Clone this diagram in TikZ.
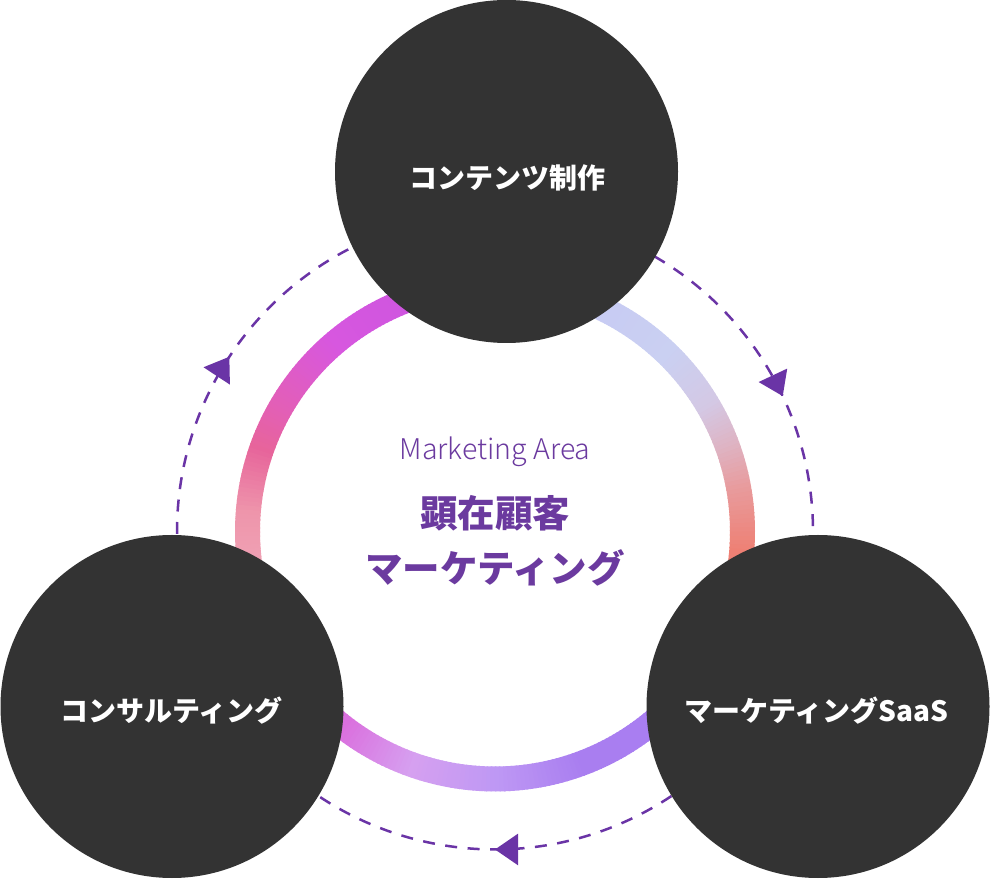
\documentclass[tikz,border=0pt]{standalone}
\usepackage{fontspec}
\newfontfamily\jp{Noto Sans CJK JP}
\IfFontExistsTF{Noto Sans CJK JP Light}{\newfontfamily\jplight{Noto Sans CJK JP Light}}{\newfontfamily\jplight{Noto Sans CJK JP}}
\usetikzlibrary{arrows.meta,decorations.markings,calc}
\definecolor{dark}{HTML}{333333}
\definecolor{purp}{HTML}{6B3A9F}
\definecolor{dashc}{HTML}{6A34A6}
% ring colour stops
\definecolor{La}{HTML}{C854E0}
\definecolor{Lb}{HTML}{D757DF}
\definecolor{Lc}{HTML}{E35FB6}
\definecolor{Ld}{HTML}{E7649B}
\definecolor{Le}{HTML}{EE95AB}
\definecolor{Lf}{HTML}{F2B4C2}
\definecolor{Ba}{HTML}{DA70DE}
\definecolor{Bb}{HTML}{D6A0F0}
\definecolor{Bc}{HTML}{BE98F4}
\definecolor{Bd}{HTML}{A97EF0}
\definecolor{Be}{HTML}{AA7DF2}
\definecolor{Ra}{HTML}{EE8074}
\definecolor{Rb}{HTML}{E89C9E}
\definecolor{Rc}{HTML}{DEB4C4}
\definecolor{Rd}{HTML}{D4C8E4}
\definecolor{Re}{HTML}{CAD0F2}
\definecolor{Rf}{HTML}{C4C4F4}
\newcommand\gradarc[4]{%
  \pgfmathtruncatemacro\gaLast{#2-1}%
  \foreach \ang in {#1,...,\gaLast}{%
    \pgfmathsetmacro\gaPct{100*(\ang-(#1))/((#2)-(#1))}%
    \draw[ringseg,color=#4!\gaPct!#3] (cen) ++(\ang:247.5pt) arc[start angle=\ang,end angle=\ang+1.3,radius=247.5pt];
  }%
}
\tikzset{
  ringseg/.style={line width=25pt,line cap=butt},
  bubble/.style={circle,fill=dark,minimum size=343pt,inner sep=0pt},
  blabel/.style={anchor=base,text=white,font=\jp\bfseries\fontsize{28}{32}\selectfont,inner sep=0pt},
  sublabel/.style={anchor=base,text=purp,font=\jplight\fontsize{28.5}{32}\selectfont,inner sep=0pt},
  mainlabel/.style={anchor=base,text=purp,font=\jp\bfseries\fontsize{37.5}{42}\selectfont,inner sep=0pt},
  flow/.style={draw=dashc,line width=2.5pt,dash pattern=on 12pt off 10.5pt,
    postaction={decorate},
    decoration={markings,mark=at position #1 with {\arrow[dashc]{Triangle[length=23pt,width=31pt]}}}},
  flow/.default=0.5
}
\begin{document}
\begin{tikzpicture}[x=1pt,y=1pt]
\useasboundingbox (0,0) rectangle (990,878);
\coordinate (cen) at (495,346.5);
% gradient ring
\gradarc{95}{130}{La}{Lb}
\gradarc{130}{150}{Lb}{Lc}
\gradarc{150}{160}{Lc}{Ld}
\gradarc{160}{175}{Ld}{Le}
\gradarc{175}{205}{Le}{Lf}
\gradarc{205}{232}{Ba}{Ba}
\gradarc{232}{250}{Ba}{Bb}
\gradarc{250}{270}{Bb}{Bc}
\gradarc{270}{290}{Bc}{Bd}
\gradarc{290}{330}{Bd}{Be}
\gradarc{330}{355}{Ra}{Ra}
\gradarc{355}{370}{Ra}{Rb}
\gradarc{370}{380}{Rb}{Rc}
\gradarc{380}{390}{Rc}{Rd}
\gradarc{390}{405}{Rd}{Re}
\gradarc{405}{455}{Re}{Rf}
% dashed cycle
\draw[flow=0.575] ($(cen)+(59.9:318pt)$) arc[start angle=59.9,end angle=-0.45,radius=318pt];
\draw[flow=0.5] ($(cen)+(-56.3:318pt)$) arc[start angle=-56.3,end angle=-123.7,radius=318pt];
\draw[flow=0.53] ($(cen)+(180.45:318pt)$) arc[start angle=180.45,end angle=116.7,radius=318pt];
% circles
\node[bubble] (top) at (506.5,706.5) {};
\node[bubble] (bl) at (172,171.5) {};
\node[bubble] (br) at (818,171.5) {};
\node[blabel] (topt) at (507.5,689) {コンテンツ制作};
\node[blabel] (blt) at (171.5,156) {コンサルティング};
\node[blabel] (brt) at (816.5,156) {マーケティングSaaS};
% centre text
\node[sublabel] (area) at (495,418) {Marketing Area};
\node[mainlabel] (t1) at (495,350.5) {顕在顧客};
\node[mainlabel] (t2) at (495,295) {マーケティング};
\end{tikzpicture}
\end{document}
